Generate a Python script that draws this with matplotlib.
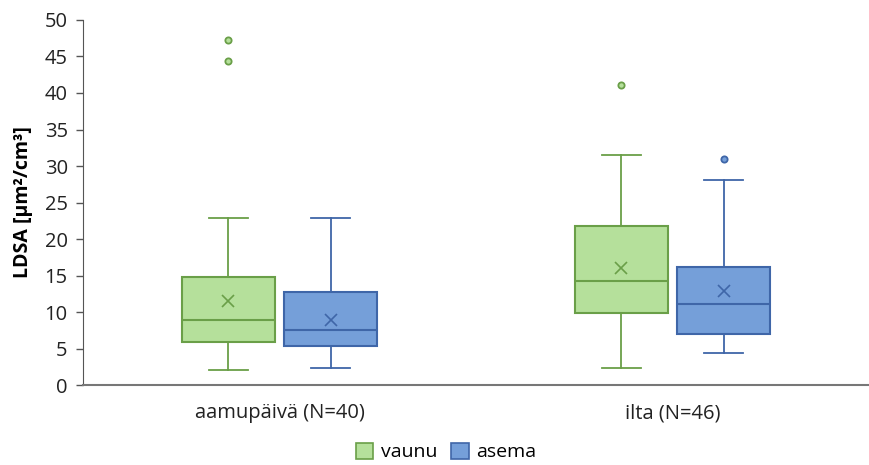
import matplotlib
matplotlib.use("Agg")
import matplotlib.pyplot as plt
from matplotlib.patches import Patch

categories = ["aamupäivä (N=40)", "ilta (N=46)"]
series = ["vaunu", "asema"]
# per series: [group1, group2]
whislo = {"vaunu": [2.05, 2.3], "asema": [2.3, 4.4]}
q1 = {"vaunu": [5.9, 9.9], "asema": [5.3, 7.0]}
med = {"vaunu": [8.9, 14.2], "asema": [7.5, 11.1]}
q3 = {"vaunu": [14.8, 21.8], "asema": [12.7, 16.2]}
whishi = {"vaunu": [22.9, 31.5], "asema": [22.9, 28.1]}
mean = {"vaunu": [11.5, 16.0], "asema": [8.9, 12.9]}
fliers = {"vaunu": [[47.3, 44.4], [41.1]], "asema": [[], [31.0]]}

fill = {"vaunu": "#b5e09b", "asema": "#759fd9"}
edge = {"vaunu": "#6a9f48", "asema": "#3f66a8"}

plt.rcParams["font.family"] = ["Open Sans", "DejaVu Sans"]
fig = plt.figure(figsize=(8.7, 4.65), dpi=100)
ax = fig.add_axes([0.0954, 0.172, 0.9036, 0.785])

offsets = {"vaunu": -0.13, "asema": 0.13}
centers = [0.5, 1.5]
for s in series:
    stats = []
    for i in range(len(categories)):
        stats.append(dict(med=med[s][i], q1=q1[s][i], q3=q3[s][i],
                          whislo=whislo[s][i], whishi=whishi[s][i],
                          mean=mean[s][i], fliers=fliers[s][i]))
    pos = [c + offsets[s] for c in centers]
    ax.bxp(stats, positions=pos, widths=0.236, patch_artist=True,
           showmeans=True, manage_ticks=False,
           boxprops=dict(facecolor=fill[s], edgecolor=edge[s], linewidth=1.5),
           medianprops=dict(color=edge[s], linewidth=1.5),
           whiskerprops=dict(color=edge[s], linewidth=1.3),
           capprops=dict(color=edge[s], linewidth=1.3),
           capwidths=0.1,
           meanprops=dict(marker="x", markeredgecolor=edge[s], markersize=9,
                          markeredgewidth=1.2),
           flierprops=dict(marker="o", markerfacecolor=fill[s],
                           markeredgecolor=edge[s], markersize=4.5,
                           markeredgewidth=1.3))

ax.set_xlim(0, 2)
ax.set_ylim(0, 50)
ax.set_yticks(range(0, 51, 5))
ax.set_xticks(centers)
ax.set_xticklabels(categories)
ax.tick_params(axis="x", length=0, labelsize=14.5, pad=13, colors="#222222")
ax.tick_params(axis="y", length=5, width=1, labelsize=14.5, colors="#555555",
               labelcolor="#222222", pad=6)
for sp in ["top", "right"]:
    ax.spines[sp].set_visible(False)
ax.spines["left"].set_color("#555555")
ax.spines["bottom"].set_color("#777777")
ax.spines["bottom"].set_linewidth(1.5)
ax.set_ylabel("LDSA [µm²/cm³]", fontsize=14, fontweight="bold", labelpad=8)

handles = [Patch(facecolor=fill[s], edgecolor=edge[s], linewidth=1.2) for s in series]
fig.legend(handles, series, loc="lower center", bbox_to_anchor=(0.513, -0.03),
           ncol=2, frameon=False, fontsize=14, handlelength=0.9, handleheight=0.9,
           handletextpad=0.4, columnspacing=0.7)

fig.savefig("out.png", dpi=100)
